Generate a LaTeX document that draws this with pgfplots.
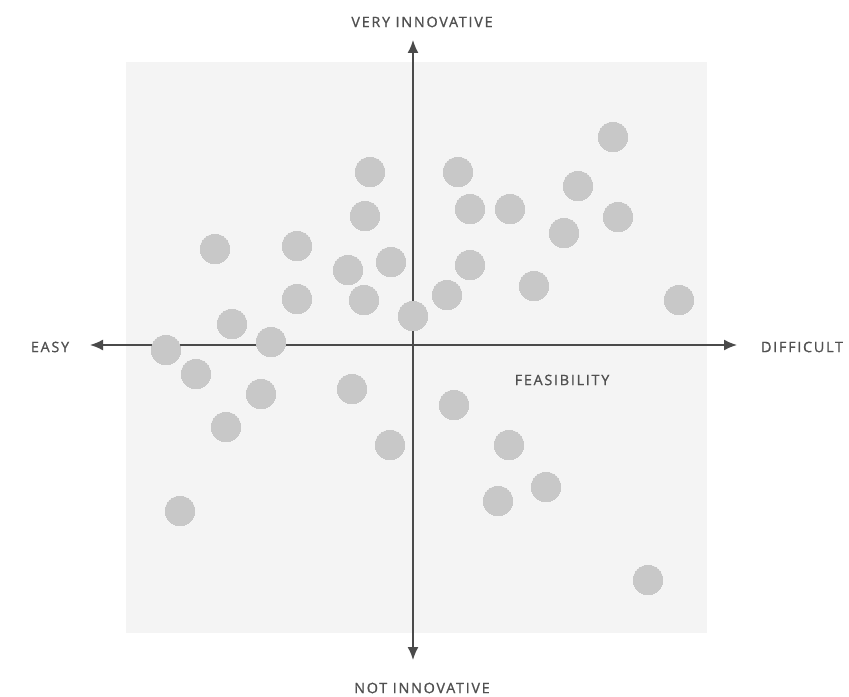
\documentclass[border=0pt]{standalone}
\usepackage{pgfplots}
\pgfplotsset{compat=1.18}
\usepackage{fontspec}
\setmainfont{Open Sans}
\newfontfamily\lblfont[LetterSpace=12, FakeBold=1]{Open Sans}
\usetikzlibrary{arrows.meta}
\definecolor{panel}{HTML}{F4F4F4}
\definecolor{dot}{HTML}{C8C8C8}
\definecolor{axisgray}{HTML}{4A4A4A}
\definecolor{txt}{HTML}{505050}
\begin{document}
\begin{tikzpicture}
\begin{axis}[
    scale only axis,
    width=424.5pt, height=348pt,
    xmin=-413, xmax=436,
    ymin=-351, ymax=345,
    hide axis,
    clip=false,
]
% background square
\fill[panel] (axis cs:-287,-288) rectangle (axis cs:294,283);
% feasibility / innovation axes
\draw[axisgray, line width=0.8pt, -{Latex[length=6.5pt,width=5.5pt]}] (axis cs:0,0) -- (axis cs:324,0);
\draw[axisgray, line width=0.8pt, -{Latex[length=6.5pt,width=5.5pt]}] (axis cs:0,0) -- (axis cs:-323,0);
\draw[axisgray, line width=0.8pt, -{Latex[length=6.5pt,width=5.5pt]}] (axis cs:0,0) -- (axis cs:0,305);
\draw[axisgray, line width=0.8pt, -{Latex[length=6.5pt,width=5.5pt]}] (axis cs:0,0) -- (axis cs:0,-315);
\addplot[only marks, color=dot, mark=*, mark size=7.4pt, mark options={fill=dot, draw=dot, line width=0pt}] coordinates {
    (-43,173) (45,173) (200,208) (165,159) (-48,129) (57,136) (97,136)
    (205,128) (151,112) (-198,96) (-116,99) (-65,75) (-22,83) (57,80)
    (121,59) (266,45) (-116,46) (-49,45) (34,50) (0,29) (-181,21)
    (-142,3) (-247,-5) (-217,-29) (-152,-49) (-61,-44) (41,-60)
    (-187,-82) (-23,-100) (96,-100) (133,-142) (85,-156) (-233,-166)
    (235,-235)
};
\node[txt, font=\lblfont\fontsize{7.2pt}{8pt}\selectfont] at (axis cs:9,323) {VERY INNOVATIVE};
\node[txt, font=\lblfont\fontsize{7.2pt}{8pt}\selectfont] at (axis cs:9,-343) {NOT INNOVATIVE};
\node[txt, font=\lblfont\fontsize{7.2pt}{8pt}\selectfont] at (axis cs:-363,-2) {EASY};
\node[txt, font=\lblfont\fontsize{7.2pt}{8pt}\selectfont] at (axis cs:389,-2) {DIFFICULT};
\node[txt, font=\lblfont\fontsize{7.2pt}{8pt}\selectfont] at (axis cs:149,-35) {FEASIBILITY};
\end{axis}
\pgfresetboundingbox
\useasboundingbox (0,0) rectangle (424.5pt,348pt);
\end{tikzpicture}
\end{document}
